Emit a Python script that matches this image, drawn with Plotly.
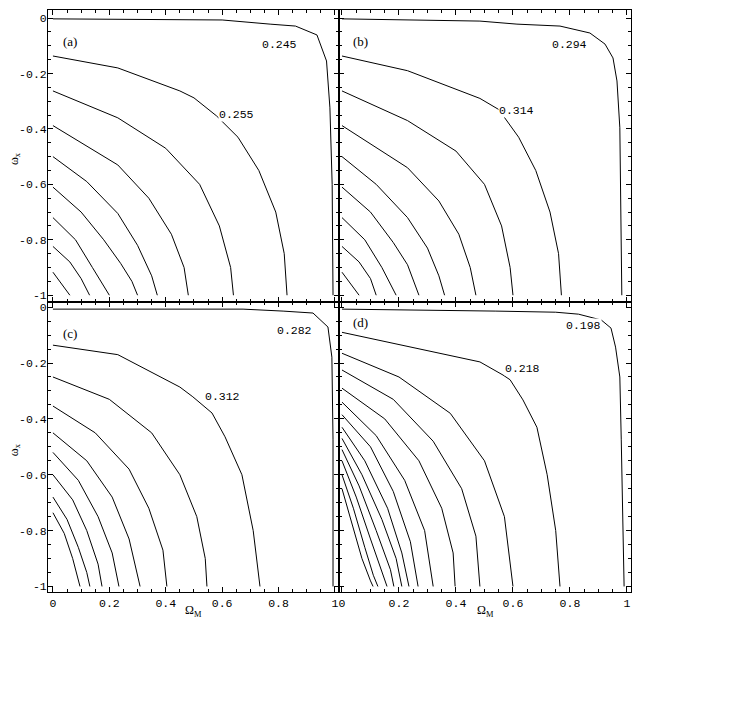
import plotly.graph_objects as go

# ---------------- data ----------------
X_TICK_VALS = [0, 0.2, 0.4, 0.6, 0.8, 1]
X_TICK_TEXT = ["0", "0.2", "0.4", "0.6", "0.8", "1"]
Y_TICK_VALS = [0, -0.2, -0.4, -0.6, -0.8, -1]
Y_TICK_TEXT = ["0", "-0.2", "-0.4", "-0.6", "-0.8", "-1"]

PANEL_TAGS = ["(a)", "(b)", "(c)", "(d)"]

# contour lines of each panel: (Omega_M values, w_x values)
panel_a_curves = [
    ([0, 0.6, 0.77, 0.86, 0.936, 0.97, 0.982, 0.99, 0.993],
     [-0.003, -0.007, -0.022, -0.029, -0.061, -0.155, -0.324, -0.6, -1.0]),
    ([0, 0.23, 0.45, 0.5, 0.58, 0.656, 0.73, 0.79, 0.82, 0.83],
     [-0.137, -0.18, -0.263, -0.288, -0.353, -0.43, -0.55, -0.7, -0.85, -1.0]),
    ([0, 0.23, 0.4, 0.52, 0.59, 0.63, 0.64],
     [-0.263, -0.36, -0.47, -0.6, -0.75, -0.9, -1.0]),
    ([0, 0.23, 0.34, 0.42, 0.465, 0.48],
     [-0.388, -0.53, -0.65, -0.78, -0.9, -1.0]),
    ([0, 0.12, 0.23, 0.3, 0.35, 0.37],
     [-0.5, -0.59, -0.705, -0.82, -0.93, -1.0]),
    ([0, 0.1, 0.18, 0.24, 0.28, 0.3],
     [-0.61, -0.7, -0.8, -0.885, -0.95, -1.0]),
    ([0, 0.08, 0.14, 0.2],
     [-0.72, -0.8, -0.9, -1.0]),
    ([0, 0.06, 0.1, 0.13],
     [-0.824, -0.88, -0.94, -1.0]),
    ([0, 0.03, 0.06],
     [-0.917, -0.96, -1.0]),
]
panel_b_curves = [
    ([0, 0.484, 0.614, 0.765, 0.87, 0.923, 0.951, 0.965, 0.975, 0.982],
     [-0.003, -0.011, -0.022, -0.029, -0.054, -0.094, -0.144, -0.227, -0.396, -1.0]),
    ([0, 0.23, 0.484, 0.55, 0.62, 0.68, 0.73, 0.76, 0.77],
     [-0.137, -0.19, -0.29, -0.33, -0.43, -0.55, -0.7, -0.85, -1.0]),
    ([0, 0.23, 0.4, 0.5, 0.56, 0.59, 0.6],
     [-0.263, -0.37, -0.48, -0.6, -0.75, -0.9, -1.0]),
    ([0, 0.23, 0.34, 0.41, 0.45, 0.47],
     [-0.388, -0.54, -0.66, -0.78, -0.9, -1.0]),
    ([0, 0.12, 0.23, 0.3, 0.34, 0.36],
     [-0.5, -0.6, -0.72, -0.83, -0.93, -1.0]),
    ([0, 0.1, 0.18, 0.23, 0.27],
     [-0.61, -0.7, -0.81, -0.89, -1.0]),
    ([0, 0.08, 0.14, 0.19],
     [-0.72, -0.8, -0.9, -1.0]),
    ([0, 0.06, 0.1, 0.12],
     [-0.824, -0.88, -0.94, -1.0]),
    ([0, 0.03, 0.06],
     [-0.917, -0.96, -1.0]),
]
panel_c_curves = [
    ([0, 0.674, 0.816, 0.922, 0.975, 0.989, 0.993, 0.993],
     [-0.007, -0.007, -0.014, -0.021, -0.071, -0.179, -0.475, -1.0]),
    ([0, 0.23, 0.45, 0.496, 0.564, 0.61, 0.67, 0.71, 0.734],
     [-0.136, -0.17, -0.286, -0.321, -0.379, -0.464, -0.6, -0.8, -1.0]),
    ([0, 0.2, 0.35, 0.45, 0.51, 0.54, 0.546],
     [-0.25, -0.33, -0.45, -0.6, -0.75, -0.9, -1.0]),
    ([0, 0.15, 0.27, 0.34, 0.39, 0.404],
     [-0.354, -0.45, -0.58, -0.72, -0.87, -1.0]),
    ([0, 0.12, 0.21, 0.27, 0.309],
     [-0.45, -0.55, -0.68, -0.83, -1.0]),
    ([0, 0.09, 0.16, 0.21, 0.234],
     [-0.52, -0.62, -0.75, -0.88, -1.0]),
    ([0, 0.07, 0.12, 0.16, 0.174],
     [-0.6, -0.69, -0.8, -0.92, -1.0]),
    ([0, 0.05, 0.09, 0.12, 0.131],
     [-0.68, -0.76, -0.86, -0.95, -1.0]),
    ([0, 0.04, 0.07, 0.096],
     [-0.736, -0.81, -0.9, -1.0]),
]
panel_d_curves = [
    ([0, 0.484, 0.54, 0.75, 0.83, 0.91, 0.944, 0.96, 0.975, 0.98, 0.99],
     [-0.007, -0.011, -0.014, -0.018, -0.025, -0.046, -0.075, -0.143, -0.25, -0.475, -1.0]),
    ([0, 0.484, 0.565, 0.59, 0.635, 0.684, 0.72, 0.75, 0.765],
     [-0.09, -0.196, -0.243, -0.26, -0.332, -0.43, -0.6, -0.8, -1.0]),
    ([0, 0.2, 0.38, 0.5, 0.57, 0.6],
     [-0.165, -0.25, -0.38, -0.55, -0.75, -1.0]),
    ([0, 0.18, 0.32, 0.42, 0.47, 0.484],
     [-0.225, -0.33, -0.48, -0.65, -0.82, -1.0]),
    ([0, 0.15, 0.27, 0.35, 0.39, 0.397],
     [-0.29, -0.4, -0.55, -0.72, -0.88, -1.0]),
    ([0, 0.12, 0.22, 0.29, 0.32],
     [-0.34, -0.46, -0.62, -0.8, -1.0]),
    ([0, 0.1, 0.18, 0.24, 0.267],
     [-0.385, -0.5, -0.66, -0.84, -1.0]),
    ([0, 0.08, 0.16, 0.21, 0.235],
     [-0.43, -0.55, -0.72, -0.88, -1.0]),
    ([0, 0.07, 0.14, 0.19, 0.21],
     [-0.47, -0.6, -0.76, -0.9, -1.0]),
    ([0, 0.06, 0.12, 0.17, 0.182],
     [-0.51, -0.64, -0.8, -0.94, -1.0]),
    ([0, 0.05, 0.1, 0.14, 0.158],
     [-0.55, -0.68, -0.83, -0.95, -1.0]),
    ([0, 0.04, 0.08, 0.11, 0.126],
     [-0.6, -0.72, -0.86, -0.96, -1.0]),
    ([0, 0.03, 0.07, 0.1, 0.109],
     [-0.65, -0.76, -0.9, -0.98, -1.0]),
]
PANEL_CURVES = [panel_a_curves, panel_b_curves, panel_c_curves, panel_d_curves]

# contour labels: (text, Omega_M, w_x)
panel_labels = [
    [("0.245", 0.805, -0.097), ("0.255", 0.652, -0.349)],
    [("0.294", 0.80, -0.097), ("0.314", 0.614, -0.335)],
    [("0.282", 0.855, -0.082), ("0.312", 0.60, -0.321)],
    [("0.198", 0.849, -0.064), ("0.218", 0.632, -0.221)],
]

# ---------------- layout geometry ----------------
PAGE_MARGIN = 8          # default body margin of the html page
W, H = 736 - 2 * PAGE_MARGIN, 711 - 2 * PAGE_MARGIN
XL = [48, 339, 631]      # screen columns of panel frames
YT = [9, 302, 593]       # screen rows of panel frames

def xd(px):
    return (px - PAGE_MARGIN) / W

def yd(py):
    return 1 - (py - PAGE_MARGIN) / H

X_RANGES = [[-0.0175, 1.0142], [-0.0105, 1.0142], [-0.0175, 1.0142], [-0.0105, 1.0142]]
Y_RANGES = [[-1.025, 0.029], [-1.025, 0.029], [-1.021, 0.018], [-1.021, 0.018]]
TAG_POS = [(0.03, -0.085), (0.03, -0.085), (0.03, -0.093), (0.03, -0.054)]

fig = go.Figure()
MONO = "Liberation Mono"

for i in range(4):
    r, c = divmod(i, 2)
    sfx = "" if i == 0 else str(i + 1)
    xa, ya = "x" + sfx, "y" + sfx
    for xs, ys in PANEL_CURVES[i]:
        fig.add_trace(go.Scatter(x=xs, y=ys, mode="lines", xaxis=xa, yaxis=ya,
                                 line=dict(color="black", width=1),
                                 showlegend=False, hoverinfo="skip"))
    common = dict(showline=True, linecolor="black", linewidth=1, mirror="ticks",
                  ticks="inside", ticklen=5, tickcolor="black", tickwidth=1,
                  showgrid=False, zeroline=False,
                  tickfont=dict(family=MONO, size=11.5, color="black"),
                  minor=dict(ticks="inside", ticklen=3, dtick=0.05, tick0=0,
                             tickcolor="black", showgrid=False))
    fig.layout["xaxis" + sfx] = dict(
        common, domain=[xd(XL[c]), xd(XL[c + 1])], range=X_RANGES[i],
        anchor=ya, tickvals=X_TICK_VALS, ticktext=X_TICK_TEXT,
        showticklabels=(r == 1))
    fig.layout["yaxis" + sfx] = dict(
        common, domain=[yd(YT[r + 1]), yd(YT[r])], range=Y_RANGES[i],
        anchor=xa, tickvals=Y_TICK_VALS, ticktext=Y_TICK_TEXT,
        showticklabels=(c == 0), ticklabelstandoff=-2)
    tx, ty = TAG_POS[i]
    fig.add_annotation(text=PANEL_TAGS[i], x=tx, y=ty,
                       xref=xa, yref=ya, showarrow=False, xanchor="left", yanchor="middle",
                       font=dict(family="Liberation Serif", size=13, color="black"))
    for txt, lx, ly in panel_labels[i]:
        fig.add_annotation(text=txt, x=lx, y=ly, xref=xa, yref=ya, showarrow=False,
                           bgcolor="white", borderpad=0,
                           font=dict(family=MONO, size=11.5, color="black"))

# axis titles
for r in range(2):
    fig.add_annotation(text="ω<sub>x</sub>", x=xd(15), y=yd((YT[r] + YT[r + 1]) / 2 + 3),
                       xref="paper", yref="paper", showarrow=False, textangle=-90,
                       xanchor="center", yanchor="middle",
                       font=dict(family="Liberation Serif", size=12, color="black"))
for c in range(2):
    fig.add_annotation(text="Ω<sub>M</sub>", x=xd((XL[c] + XL[c + 1]) / 2), y=yd(612),
                       xref="paper", yref="paper", showarrow=False,
                       xanchor="center", yanchor="middle",
                       font=dict(family="Liberation Serif", size=12, color="black"))

fig.update_layout(width=W, height=H, margin=dict(l=0, r=0, t=0, b=0),
                  paper_bgcolor="white", plot_bgcolor="white", showlegend=False)

fig.write_html("out.html")
